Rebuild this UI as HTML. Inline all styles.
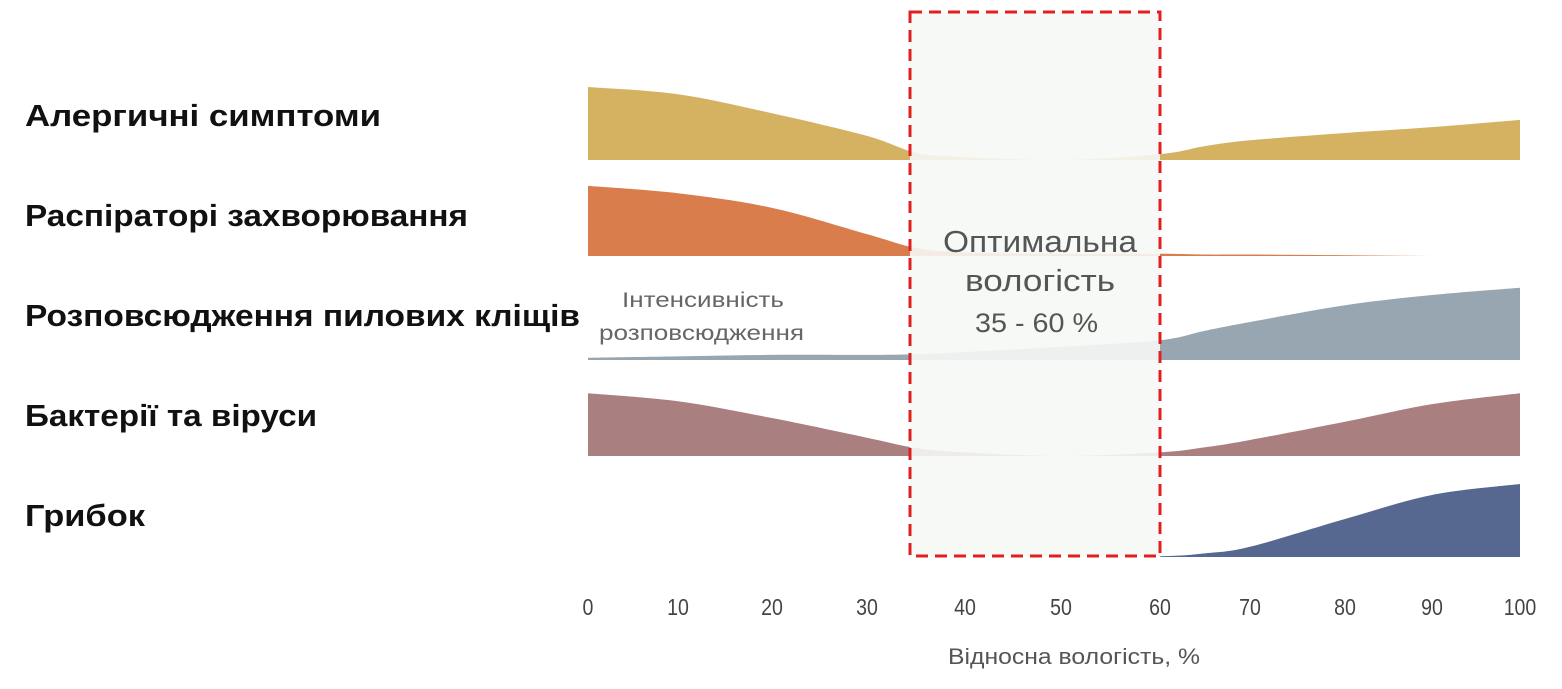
<!DOCTYPE html>
<html><head><meta charset="utf-8"><style>
body{margin:0;background:#fff;}
svg{display:block;font-family:"Liberation Sans",sans-serif;}
</style></head><body>
<svg id="chart" width="1562" height="689" viewBox="0 0 1562 689">
<rect x="910" y="12" width="250" height="544" fill="#f7f9f6"/>
<g id="areas"></g>
<rect x="910" y="12" width="250" height="544" fill="none" stroke="#e02020" stroke-width="3" stroke-dasharray="12,7"/>
<g font-size="31" font-weight="bold" fill="#111" lengthAdjust="spacingAndGlyphs">
<text x="25" y="126" textLength="356" lengthAdjust="spacingAndGlyphs">Алергичні симптоми</text>
<text x="25" y="226" textLength="443" lengthAdjust="spacingAndGlyphs">Распіраторі захворювання</text>
<text x="25" y="326" textLength="555" lengthAdjust="spacingAndGlyphs">Розповсюдження пилових кліщів</text>
<text x="25" y="426" textLength="292" lengthAdjust="spacingAndGlyphs">Бактерії та віруси</text>
<text x="25" y="526" textLength="120" lengthAdjust="spacingAndGlyphs">Грибок</text>
</g>
<g font-size="21" fill="#666">
<text x="622" y="307" textLength="162" lengthAdjust="spacingAndGlyphs">Інтенсивність</text>
<text x="599" y="340" textLength="205" lengthAdjust="spacingAndGlyphs">розповсюдження</text>
</g>
<g fill="#555">
<text x="943" y="252" font-size="31" textLength="194" lengthAdjust="spacingAndGlyphs">Оптимальна</text>
<text x="965" y="291" font-size="31" textLength="150" lengthAdjust="spacingAndGlyphs">вологість</text>
<text x="975" y="332" font-size="27" textLength="123" lengthAdjust="spacingAndGlyphs">35 - 60 %</text>
</g>
<g id="ticks" font-size="23" fill="#444" text-anchor="middle"></g>
<text x="948" y="664" font-size="22" fill="#555" textLength="252" lengthAdjust="spacingAndGlyphs">Відносна вологість, %</text>
</svg>
<script>
const tickValues=[0,10,20,30,40,50,60,70,80,90,100];
const tickPx=[588,678,772,867,965,1061,1160,1250,1345,1432,1520];
const humidity=[0,10,20,30,35,40,50,60,65,70,80,90,100];
const allergic=[100,90,64,33,10,4,0,8,19,27,37,45,55];
const respiratory=[96,86,66,30,11,5,3,3,2,2,1,0,0];
const mites=[3,5,7,7,8,11,18,27,40,52,75,89,99];
const bacteria=[86,75,52,25,11,5,0,5,12,22,47,71,86];
const fungus=[0,0,0,0,0,0,0,1,5,14,52,85,100];
const seriesNames=['allergic','respiratory','mites','bacteria','fungus'];
const seriesData=[allergic,respiratory,mites,bacteria,fungus];
const colors=['#d4b262','#d97d4c','#97a6b0','#aa7f80','#56688f'];
const baselines=[160,256,360,456,557];
const unitPx=0.73;
function xScale(v){for(let i=0;i<tickValues.length-1;i++){if(v<=tickValues[i+1]){const t=(v-tickValues[i])/(tickValues[i+1]-tickValues[i]);return tickPx[i]+t*(tickPx[i+1]-tickPx[i]);}}return tickPx[tickPx.length-1];}
function yScale(v,b){return b-v*unitPx;}
const NS='http://www.w3.org/2000/svg';
const svg=document.getElementById('chart');
const defs=document.createElementNS(NS,'defs');
defs.innerHTML='<clipPath id="outside"><rect x="0" y="0" width="910" height="689"/><rect x="1160" y="0" width="402" height="689"/></clipPath><clipPath id="inside"><rect x="910" y="0" width="250" height="689"/></clipPath>';
svg.insertBefore(defs,svg.firstChild);
const areas=document.getElementById('areas');
seriesData.forEach((vals,si)=>{
  const b=baselines[si];
  const pts=humidity.map((h,i)=>[xScale(h),yScale(vals[i],b)]);
  let d=`M${pts[0][0]},${b}L${pts[0][0]},${pts[0][1]}`;
  for(let i=0;i<pts.length-1;i++){
    const p0=pts[i-1]||pts[i],p1=pts[i],p2=pts[i+1],p3=pts[i+2]||p2;
    const c1=[p1[0]+(p2[0]-p0[0])/6,p1[1]+(p2[1]-p0[1])/6];
    const c2=[p2[0]-(p3[0]-p1[0])/6,p2[1]-(p3[1]-p1[1])/6];
    d+=`C${c1[0]},${Math.min(b,c1[1])} ${c2[0]},${Math.min(b,c2[1])} ${p2[0]},${p2[1]}`;
  }
  d+=`L${pts[pts.length-1][0]},${b}Z`;
  const out=document.createElementNS(NS,'path');
  
  
  out.setAttribute('d',d);out.setAttribute('fill',colors[si]);out.setAttribute('clip-path','url(#outside)');
  areas.appendChild(out);
  const inn=document.createElementNS(NS,'path');
  
  
  inn.setAttribute('d',d);inn.setAttribute('fill',colors[si]);inn.setAttribute('opacity','0.1');inn.setAttribute('clip-path','url(#inside)');
  areas.appendChild(inn);
});
const ticks=document.getElementById('ticks');
tickValues.forEach(v=>{
  const t=document.createElementNS(NS,'text');
  
  
  t.setAttribute('x',xScale(v));t.setAttribute('y',615);
  t.setAttribute('transform',`translate(${xScale(v)},0) scale(0.85,1) translate(${-xScale(v)},0)`);
  t.textContent=v;ticks.appendChild(t);
});
</script>
</body></html>
